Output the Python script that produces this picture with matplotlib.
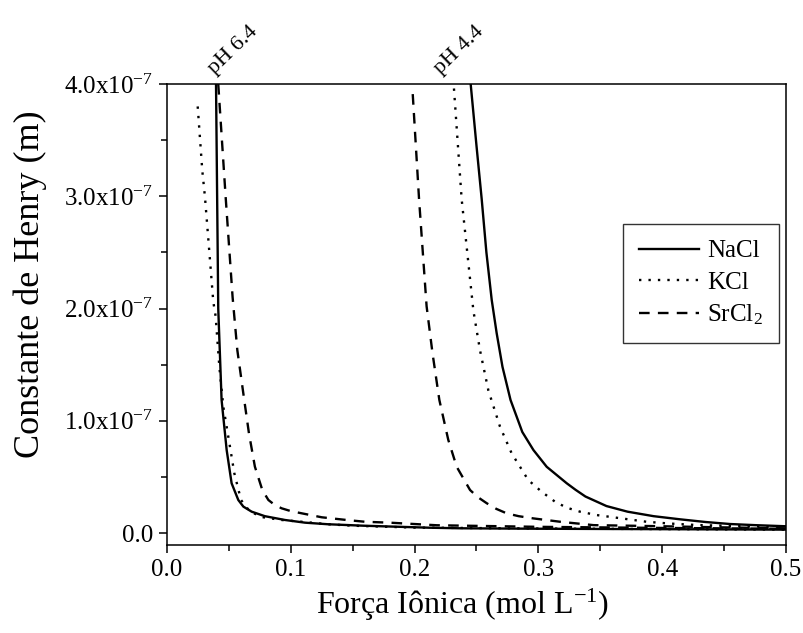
import matplotlib
matplotlib.use("Agg")
import matplotlib.pyplot as plt
from matplotlib.ticker import MultipleLocator, FuncFormatter

plt.rcParams['font.family'] = ['Liberation Serif', 'DejaVu Serif']
plt.rcParams['mathtext.fontset'] = 'custom'
plt.rcParams['mathtext.rm'] = 'Liberation Serif'
plt.rcParams['mathtext.it'] = 'Liberation Serif:italic'

# ---- data (ionic strength in mol/L, Henry constant in units of 1e-7 m) ----
nacl_64_x = [0.0396, 0.0405, 0.0414, 0.0441, 0.0482, 0.0522, 0.0576, 0.0617, 0.0684, 0.0790,
             0.0953, 0.1115, 0.1300, 0.1586, 0.2124, 0.2367, 0.30, 0.40, 0.50]
nacl_64_y = [4.00, 3.00, 2.00, 1.185, 0.739, 0.443, 0.294, 0.235, 0.19, 0.150,
             0.116, 0.092, 0.078, 0.065, 0.047, 0.042, 0.038, 0.034, 0.030]

kcl_64_x = [0.0248, 0.0285, 0.0307, 0.0374, 0.0393, 0.0423, 0.0455, 0.0504, 0.0544, 0.0598,
            0.0670, 0.0778, 0.0926, 0.109, 0.13, 0.15, 0.20, 0.30, 0.40, 0.50]
kcl_64_y = [3.80, 3.23, 2.99, 2.06, 1.93, 1.48, 1.125, 0.80, 0.532, 0.294,
            0.19, 0.14, 0.116, 0.10, 0.078, 0.065, 0.048, 0.040, 0.035, 0.030]

srcl2_64_x = [0.0414, 0.0474, 0.0530, 0.0568, 0.0624, 0.0662, 0.0710, 0.0770, 0.0819, 0.0870,
              0.0926, 0.1000, 0.1090, 0.1250, 0.145, 0.160, 0.180, 0.218, 0.30, 0.40, 0.50]
srcl2_64_y = [4.00, 2.99, 2.10, 1.63, 1.185, 0.888, 0.591, 0.383, 0.294, 0.250,
              0.22, 0.195, 0.175, 0.140, 0.116, 0.100, 0.092, 0.069, 0.055, 0.045, 0.038]

nacl_44_x = [0.2453, 0.2500, 0.2542, 0.2580, 0.2623, 0.2663, 0.2710, 0.2775, 0.2870, 0.2960,
             0.3067, 0.3229, 0.3300, 0.3380, 0.3550, 0.3720, 0.3930, 0.4144, 0.4350, 0.4548,
             0.4750, 0.50]
nacl_44_y = [4.00, 3.45, 2.975, 2.50, 2.076, 1.78, 1.48, 1.185, 0.90, 0.739,
             0.59, 0.443, 0.385, 0.325, 0.24, 0.19, 0.15, 0.122, 0.098, 0.080,
             0.070, 0.060]

kcl_44_x = [0.2318, 0.2380, 0.2475, 0.2528, 0.2596, 0.2690, 0.2784, 0.2918, 0.3026, 0.3134,
            0.3230, 0.3336, 0.3470, 0.3605, 0.3875, 0.4050, 0.4279, 0.4600, 0.50]
kcl_44_y = [3.96, 2.975, 1.98, 1.63, 1.27, 0.947, 0.71, 0.472, 0.368, 0.279,
            0.225, 0.19, 0.16, 0.14, 0.10, 0.085, 0.071, 0.062, 0.055]

srcl2_44_x = [0.1985, 0.2036, 0.2097, 0.2145, 0.2200, 0.2272, 0.2340, 0.2448, 0.2510, 0.2583,
              0.2660, 0.2744, 0.2840, 0.2960, 0.3177, 0.3446, 0.39, 0.45, 0.50]
srcl2_44_y = [3.91, 2.975, 2.02, 1.60, 1.185, 0.83, 0.59, 0.383, 0.32, 0.265,
              0.215, 0.175, 0.15, 0.13, 0.10, 0.07, 0.062, 0.050, 0.042]

labels = ['NaCl', 'KCl', 'SrCl$_2$']
x_ticks = [0.0, 0.1, 0.2, 0.3, 0.4, 0.5]
y_ticks = [0.0, 1.0, 2.0, 3.0, 4.0]
scale = 1e-7

fig = plt.figure(figsize=(8.04, 6.33), dpi=100)
ax = fig.add_axes([0.2077, 0.139, 0.7699, 0.7283])

lw = 1.7
dot = (0, (1, 3))
dash = (0, (4.5, 3.5))
s = lambda v: [a * scale for a in v]
ax.plot(nacl_64_x, s(nacl_64_y), color='black', lw=lw, ls='-', label=labels[0])
ax.plot(kcl_64_x, s(kcl_64_y), color='black', lw=lw, ls=dot, label=labels[1])
ax.plot(srcl2_64_x, s(srcl2_64_y), color='black', lw=lw, ls=dash, label=labels[2])
ax.plot(nacl_44_x, s(nacl_44_y), color='black', lw=lw, ls='-')
ax.plot(kcl_44_x, s(kcl_44_y), color='black', lw=lw, ls=dot)
ax.plot(srcl2_44_x, s(srcl2_44_y), color='black', lw=lw, ls=dash)

ax.set_xlim(0, 0.5)
ax.set_ylim(-0.107e-7, 4.0e-7)
ax.set_xticks(x_ticks)
ax.set_yticks([v * scale for v in y_ticks])
ax.xaxis.set_minor_locator(MultipleLocator(0.05))
ax.yaxis.set_minor_locator(MultipleLocator(0.5e-7))

def yfmt(v, pos):
    m = v / scale
    if abs(m) < 1e-9:
        return '0.0'
    return '%.1fx10$^{-7}$' % m
ax.yaxis.set_major_formatter(FuncFormatter(yfmt))
ax.xaxis.set_major_formatter(FuncFormatter(lambda v, p: '%.1f' % v))

ax.tick_params(which='both', direction='out', top=False, right=False, labelsize=18, width=1.1)
ax.tick_params(which='major', length=6, pad=4)
ax.tick_params(which='minor', length=4)
for sp in ax.spines.values():
    sp.set_linewidth(1.1)

ax.set_xlabel('Força Iônica (mol L$^{-1}$)', fontsize=23)
ax.xaxis.set_label_coords(0.478, -0.09)
ax.set_ylabel('Constante de Henry (m)', fontsize=26)
ax.yaxis.set_label_coords(-0.194, 0.565)

ax.text(0.0415, 4.05e-7, 'pH 6.4', rotation=44, fontsize=16, ha='left', va='bottom',
        rotation_mode='anchor')
ax.text(0.2235, 4.05e-7, 'pH 4.4', rotation=44, fontsize=16, ha='left', va='bottom',
        rotation_mode='anchor')

leg = ax.legend(loc='upper left', bbox_to_anchor=(0.737, 0.697), fontsize=18,
                frameon=True, fancybox=False, edgecolor='black', handlelength=2.4,
                borderpad=0.65, labelspacing=0.35, handletextpad=0.3, borderaxespad=0)
leg.get_frame().set_linewidth(1.0)

fig.savefig('out.png', dpi=100)
